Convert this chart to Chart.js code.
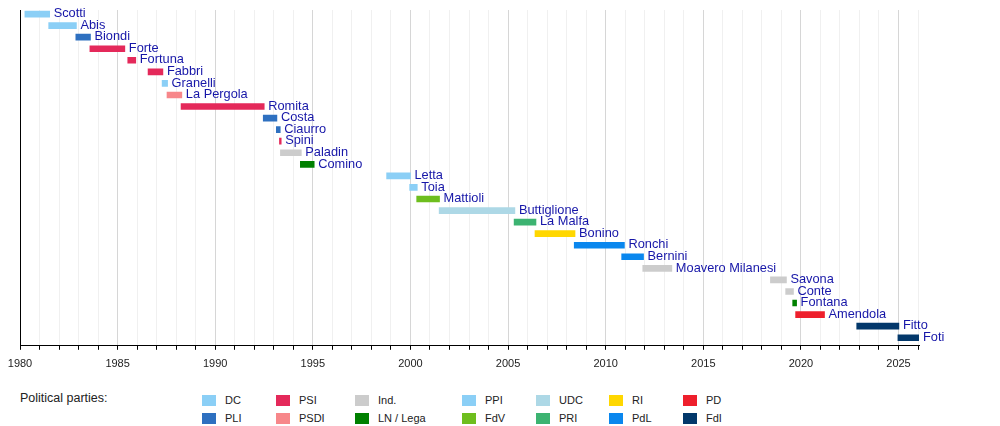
<!DOCTYPE html>
<html>
<head>
<meta charset="utf-8">
<script src="https://cdn.jsdelivr.net/npm/chart.js@4/dist/chart.umd.min.js"></script>
<style>
    body { margin: 0; background: #fff; font-family: "Liberation Sans", Arial, sans-serif; }
    #wrap { position: relative; width: 1000px; height: 426px; }
    #box { position: absolute; left: 0; top: 0; width: 1000px; height: 380px; }
    .title { position: absolute; left: 20px; top: 391px; font-size: 12.5px; color: #222; }
    .sw { position: absolute; width: 14px; height: 11px; }
    .lt { position: absolute; font-size: 11px; color: #222; line-height: 11px; }
</style>
</head>
<body>
<div id="wrap">
    <div id="box"><canvas id="timeline"></canvas></div>
    <div class="title">Political parties:</div>
    <div id="legend"></div>
</div>
<script>
// ministers, top to bottom
const names = ["Scotti", "Abis", "Biondi", "Forte", "Fortuna", "Fabbri", "Granelli", "La Pergola",
    "Romita", "Costa", "Ciaurro", "Spini", "Paladin", "Comino", "Letta", "Toia", "Mattioli",
    "Buttiglione", "La Malfa", "Bonino", "Ronchi", "Bernini", "Moavero Milanesi", "Savona",
    "Conte", "Fontana", "Amendola", "Fitto", "Foti"];
const starts = [1980.25, 1981.47, 1982.86, 1983.58, 1985.52, 1986.56, 1987.28, 1987.53,
    1988.25, 1992.46, 1993.13, 1993.29, 1993.34, 1994.36, 1998.78, 1999.96, 2000.32,
    2001.47, 2005.31, 2006.38, 2008.39, 2010.82, 2011.9, 2018.44, 2019.22,
    2019.58, 2019.73, 2022.86, 2024.97];
const ends = [1981.52, 1982.89, 1983.61, 1985.37, 1985.93, 1987.32, 1987.56, 1988.29,
    1992.51, 1993.16, 1993.33, 1993.38, 1994.41, 1995.07, 2000.0, 2000.35, 2001.49,
    2005.35, 2006.43, 2008.43, 2010.96, 2011.94, 2013.39, 2019.26, 2019.62,
    2019.78, 2021.21, 2025.02, 2026.05];
const parties = ["DC", "DC", "PLI", "PSI", "PSI", "PSI", "DC", "PSDI",
    "PSI", "PLI", "PLI", "PSI", "Ind.", "LN / Lega", "PPI", "PPI", "FdV",
    "UDC", "PRI", "RI", "PdL", "PdL", "Ind.", "Ind.",
    "Ind.", "LN / Lega", "PD", "FdI", "FdI"];

// legend, column by column
const legendParties = ["DC", "PLI", "PSI", "PSDI", "Ind.", "LN / Lega", "PPI", "FdV",
    "UDC", "PRI", "RI", "PdL", "PD", "FdI"];
const legendNames = ["DC", "PLI", "PSI", "PSDI", "Ind.", "LN / Lega", "PPI", "FdV",
    "UDC", "PRI", "RI", "PdL", "PD", "FdI"];
const partyColors = {
    "DC": "#8bcff6",
    "PLI": "#2e70c0",
    "PSI": "#e4295a",
    "PSDI": "#f7878a",
    "Ind.": "#cccccc",
    "LN / Lega": "#008000",
    "PPI": "#8bcff6",
    "FdV": "#6ebe1e",
    "UDC": "#add8e6",
    "PRI": "#3cb371",
    "RI": "#ffd700",
    "PdL": "#0a87ee",
    "PD": "#ee1f2c",
    "FdI": "#03386b"
};

const legendCols = [202, 276, 355, 462, 536, 609, 683];
const legendRows = [395, 413];

const legend = document.getElementById("legend");
legendParties.forEach(function (p, i) {
    const x = legendCols[Math.floor(i / 2)];
    const y = legendRows[i % 2];
    const sw = document.createElement("div");
    sw.className = "sw";
    sw.style.left = x + "px";
    sw.style.top = y + "px";
    sw.style.background = partyColors[p];
    legend.appendChild(sw);
    const t = document.createElement("div");
    t.className = "lt";
    t.style.left = (x + 23) + "px";
    t.style.top = y + "px";
    t.textContent = legendNames[i];
    legend.appendChild(t);
});

// names next to the bar ends
const nameLabels = {
    id: "nameLabels",
    afterDatasetsDraw(chart) {
        const ctx = chart.ctx;
        const meta = chart.getDatasetMeta(0);
        ctx.save();
        ctx.font = "12.8px 'Liberation Sans', Arial, sans-serif";
        ctx.fillStyle = "#1616a8";
        ctx.textAlign = "left";
        ctx.textBaseline = "alphabetic";
        meta.data.forEach(function (bar, i) {
            ctx.fillText(names[i], bar.x + 4, bar.y + 3.2);
        });
        ctx.restore();
    }
};

new Chart(document.getElementById("timeline"), {
    type: "bar",
    data: {
        datasets: [{
            data: names.map((n, i) => ({ x: [starts[i], ends[i]], y: i })),
            backgroundColor: parties.map(p => partyColors[p]),
            barThickness: 6,
            borderWidth: 0,
        }],
    },
    options: {
        indexAxis: "y",
        responsive: true,
        maintainAspectRatio: false,
        animation: false,
        layout: { padding: { left: 20, right: 81, top: 10, bottom: 2 } },
        plugins: {
            legend: { display: false },
            tooltip: { enabled: false },
        },
        scales: {
            x: {
                type: "linear",
                min: 1980,
                max: 2026.05,
                grid: {
                    color: c => (c.tick && c.tick.value % 5 === 0) ? "#d6d6d6" : "#f0f0f0",
                    tickColor: "#000",
                    tickLength: 4,
                },
                border: { display: true, color: "#000", width: 1 },
                ticks: {
                    stepSize: 1,
                    autoSkip: false,
                    includeBounds: false,
                    maxRotation: 0,
                    padding: 7.5,
                    color: "#222",
                    font: { family: "'Liberation Sans', Arial, sans-serif", size: 11 },
                    callback: v => (v % 5 === 0 ? String(v) : ""),
                },
            },
            y: {
                type: "linear",
                reverse: true,
                offset: false,
                min: -0.35,
                max: 28.7,
                grid: { display: false, drawTicks: false, offset: false },
                border: { display: true, color: "#000", width: 1 },
                ticks: { display: false },
                afterFit: s => { s.width = 0; },
            },
        },
    },
    plugins: [nameLabels],
});
</script>
</body>
</html>
